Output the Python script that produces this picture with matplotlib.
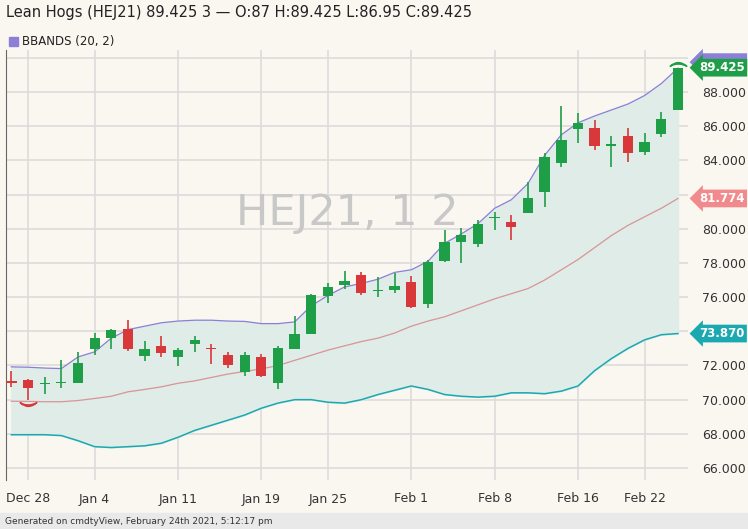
import matplotlib
matplotlib.use('Agg')
import matplotlib.pyplot as plt
import numpy as np

# candles, Dec 24 .. Feb 24 (index -1 .. 39)
opens = [71.05, 71.18, 70.9, 70.97, 70.95, 72.94, 73.58, 74.16, 72.55, 73.13, 72.47, 73.25, 73.0, 72.6,
         71.63, 72.47, 71.0, 72.99, 73.87, 76.05, 76.7, 77.28, 76.35, 76.42, 76.87, 75.6, 78.1, 79.25,
         79.1, 80.62, 80.4, 80.94, 82.13, 83.87, 85.86, 85.88, 84.86, 85.45, 84.5, 85.52, 86.95]
highs = [71.67, 71.2, 71.3, 72.35, 72.8, 73.9, 74.16, 74.69, 73.44, 73.7, 73.0, 73.7, 73.25, 72.8,
         72.8, 72.7, 73.13, 74.9, 76.17, 76.8, 77.53, 77.45, 77.17, 77.4, 77.24, 78.18, 79.93, 80.07,
         80.51, 81.0, 80.8, 82.75, 84.45, 87.2, 86.8, 86.36, 85.43, 85.87, 85.58, 86.85, 89.425]
lows = [70.75, 69.97, 70.36, 70.7, 70.95, 72.6, 72.99, 72.84, 72.27, 72.5, 71.96, 72.8, 72.08, 71.88,
        71.4, 71.34, 70.6, 72.95, 73.83, 75.66, 76.5, 76.1, 76.03, 76.26, 75.35, 75.35, 78.06, 78.0,
        78.95, 79.93, 79.35, 80.9, 81.3, 83.6, 85.0, 84.6, 83.6, 83.93, 84.3, 85.38, 86.95]
closes = [71.0, 70.69, 70.95, 71.02, 72.17, 73.58, 74.07, 72.94, 72.99, 72.76, 72.9, 73.48, 72.94, 72.02,
          72.6, 71.38, 73.03, 73.87, 76.11, 76.6, 76.93, 76.25, 76.4, 76.65, 75.45, 78.06, 79.2, 79.64,
          80.28, 80.68, 80.1, 81.78, 84.22, 85.2, 86.17, 84.84, 84.9, 84.45, 85.1, 86.4, 89.425]
bb_upper = [71.92, 71.9, 71.85, 71.82, 72.5, 72.8, 73.6, 74.1, 74.3, 74.5, 74.6, 74.65, 74.65, 74.6,
            74.58, 74.45, 74.45, 74.55, 75.5, 76.1, 76.6, 76.8, 77.05, 77.45, 77.6, 78.1, 79.15, 79.7,
            80.3, 81.2, 81.7, 82.65, 84.3, 85.5, 86.2, 86.6, 86.95, 87.3, 87.8, 88.5, 89.4]
bb_mid = [69.91, 69.9, 69.88, 69.88, 69.95, 70.07, 70.2, 70.46, 70.6, 70.75, 70.96, 71.1, 71.3, 71.5,
          71.65, 71.8, 72.0, 72.3, 72.6, 72.9, 73.15, 73.4, 73.6, 73.9, 74.3, 74.6, 74.85, 75.2, 75.55,
          75.9, 76.2, 76.5, 77.0, 77.6, 78.2, 78.9, 79.6, 80.2, 80.7, 81.2, 81.774]
bb_lower = [67.95, 67.95, 67.95, 67.9, 67.6, 67.25, 67.2, 67.25, 67.3, 67.45, 67.8, 68.2, 68.5, 68.8,
            69.1, 69.5, 69.8, 70.0, 70.0, 69.85, 69.8, 70.0, 70.3, 70.55, 70.8, 70.6, 70.3, 70.2, 70.15,
            70.2, 70.4, 70.4, 70.35, 70.5, 70.8, 71.7, 72.4, 73.0, 73.5, 73.8, 73.87]
tick_pos = [0, 4, 9, 14, 18, 23, 28, 33, 37]
tick_labels = ['Dec 28', 'Jan 4', 'Jan 11', 'Jan 19', 'Jan 25', 'Feb 1', 'Feb 8', 'Feb 16', 'Feb 22']

GREEN = '#1f9e48'
RED = '#d9383a'
PURPLE = '#8b80d6'
BG = '#faf7f1'

x = np.arange(-1, len(closes) - 1)

fig = plt.figure(figsize=(7.48, 5.29), dpi=100, facecolor=BG)
ax = fig.add_axes([6 / 748, 49 / 529, 682 / 748, 430 / 529], facecolor=BG)

ax.fill_between(x, bb_lower, bb_upper, color='#dfece7', zorder=1)
ax.plot(x, bb_upper, color=PURPLE, lw=0.9, zorder=2)
ax.plot(x, bb_mid, color='#d99499', lw=0.9, zorder=2)
ax.plot(x, bb_lower, color='#1aa9b0', lw=1.1, zorder=2)

for xi, o, h, l, c in zip(x, opens, highs, lows, closes):
    col = GREEN if c >= o else RED
    ax.vlines(xi, l, h, color=col, lw=1.2, zorder=3)
    lo, hi = min(o, c), max(o, c)
    ax.bar(xi, max(hi - lo, 0.08), bottom=lo, width=0.62, color=col, zorder=4)

# low/high markers
ax.plot([0], [lows[1] - 0.25], marker=r'$\smile$', color=RED, ms=12, zorder=5)
ax.plot([39], [highs[-1] + 0.2], marker=r'$\frown$', color=GREEN, ms=12, zorder=5)

ax.set_xlim(-1.32, 39.6)
ax.set_ylim(65.3, 90.46)
ax.set_yticks(np.arange(66, 90.1, 2))
ax.set_xticks(tick_pos)
ax.set_xticklabels(tick_labels)
ax.grid(True, color='#dcdcdc', lw=1.2, zorder=0)
ax.set_axisbelow(True)
ax.yaxis.tick_right()
ax.set_yticklabels(['%.3f' % v for v in np.arange(66, 90.1, 2)])
ax.tick_params(axis='both', length=0, labelsize=9, colors='#333333')
ax.tick_params(axis='y', pad=10)
ax.tick_params(axis='x', pad=9)
for side in ['top', 'bottom', 'right']:
    ax.spines[side].set_visible(False)
ax.spines['left'].set_color('#666666')

ax.text(0.5, 0.62, 'HEJ21, 1 2', transform=ax.transAxes, fontsize=31, color='#c8c8c8',
        ha='center', va='center', zorder=1)

# value tags on right axis (upper band tag mostly hidden behind the last price)
for val, col, tcol, txt in [(bb_upper[-1] + 0.35, PURPLE, PURPLE, '%.3f' % bb_upper[-1]),
                            (closes[-1], GREEN, 'white', '%.3f' % closes[-1]),
                            (bb_mid[-1], '#f08a8c', 'white', '%.3f' % bb_mid[-1]),
                            (bb_lower[-1], '#1aa9b0', 'white', '%.3f' % bb_lower[-1])]:
    ax.annotate(txt, xy=(1.0, val), xycoords=('axes fraction', 'data'),
                xytext=(8, 0), textcoords='offset points', ha='left', va='center',
                fontsize=8.5, color=tcol, fontweight='bold', annotation_clip=False,
                bbox=dict(boxstyle='larrow,pad=0.2', fc=col, ec='none'))

fig.text(6 / 748, 1 - 13 / 529, 'Lean Hogs (HEJ21) 89.425 3 \u2014 O:87 H:89.425 L:86.95 C:89.425',
         fontsize=10.5, color='#222222', va='center')
fig.patches.append(plt.Rectangle((9 / 748, 1 - 46 / 529), 9 / 748, 9 / 529, transform=fig.transFigure,
                                 color=PURPLE, figure=fig))
fig.text(22 / 748, 1 - 42 / 529, 'BBANDS (20, 2)', fontsize=8.5, color='#222222', va='center')
fig.patches.append(plt.Rectangle((0, 0), 1, 16 / 529, transform=fig.transFigure, color='#e9e9e9', figure=fig))
fig.text(5 / 748, 8 / 529, 'Generated on cmdtyView, February 24th 2021, 5:12:17 pm', fontsize=6.5,
         color='#333333', va='center')

fig.savefig('out.png', dpi=100, facecolor=BG)
